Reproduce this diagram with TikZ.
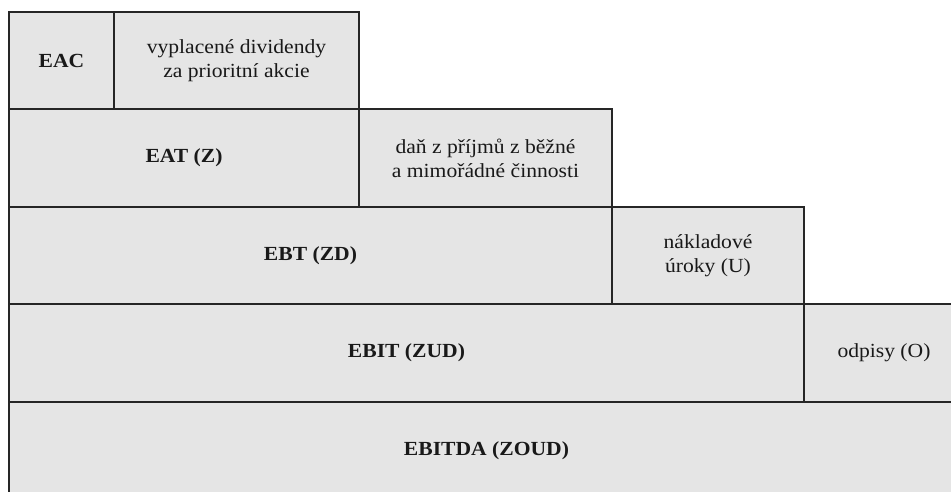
\documentclass[tikz,border=0pt]{standalone}
\usepackage{fontspec}
\setmainfont{Liberation Serif}[FakeStretch=1.08]
\begin{document}
\begin{tikzpicture}[x=1pt,y=-1pt,
  box/.style={draw=black!85, line width=1.1pt, fill=black!10, rectangle, inner sep=0pt,
    align=center, font=\fontsize{20}{24}\selectfont, text=black!90},
  lbl/.style={box, font=\fontsize{20}{24}\selectfont\bfseries}]
\useasboundingbox (0,0) rectangle (951,492);
\clip (0,0) rectangle (951,492);
\fill[white] (0,0) rectangle (951,492);
\node[lbl, minimum width=105pt, minimum height=97pt] (eac) at (61.5,60.5) {EAC};
\node[box, minimum width=245pt, minimum height=97pt] (div) at (236.5,60.5) {vyplacené dividendy\\za prioritní akcie};
\node[lbl, minimum width=350pt, minimum height=98pt] (eat) at (184,158) {EAT (Z)};
\node[box, minimum width=253pt, minimum height=98pt] (tax) at (485.5,158) {daň z příjmů z běžné\\a mimořádné činnosti};
\node[lbl, minimum width=603pt, minimum height=97pt] (ebt) at (310.5,255.5) {EBT (ZD)};
\node[box, minimum width=192pt, minimum height=97pt] (int) at (708,255.5) {nákladové\\úroky (U)};
\node[lbl, minimum width=795pt, minimum height=98pt] (ebit) at (406.5,353) {EBIT (ZUD)};
\node[box, minimum width=160pt, minimum height=98pt] (odp) at (884,353) {odpisy (O)};
\node[lbl, minimum width=955pt, minimum height=98pt] (ebitda) at (486.5,451) {EBITDA (ZOUD)};
\end{tikzpicture}
\end{document}
